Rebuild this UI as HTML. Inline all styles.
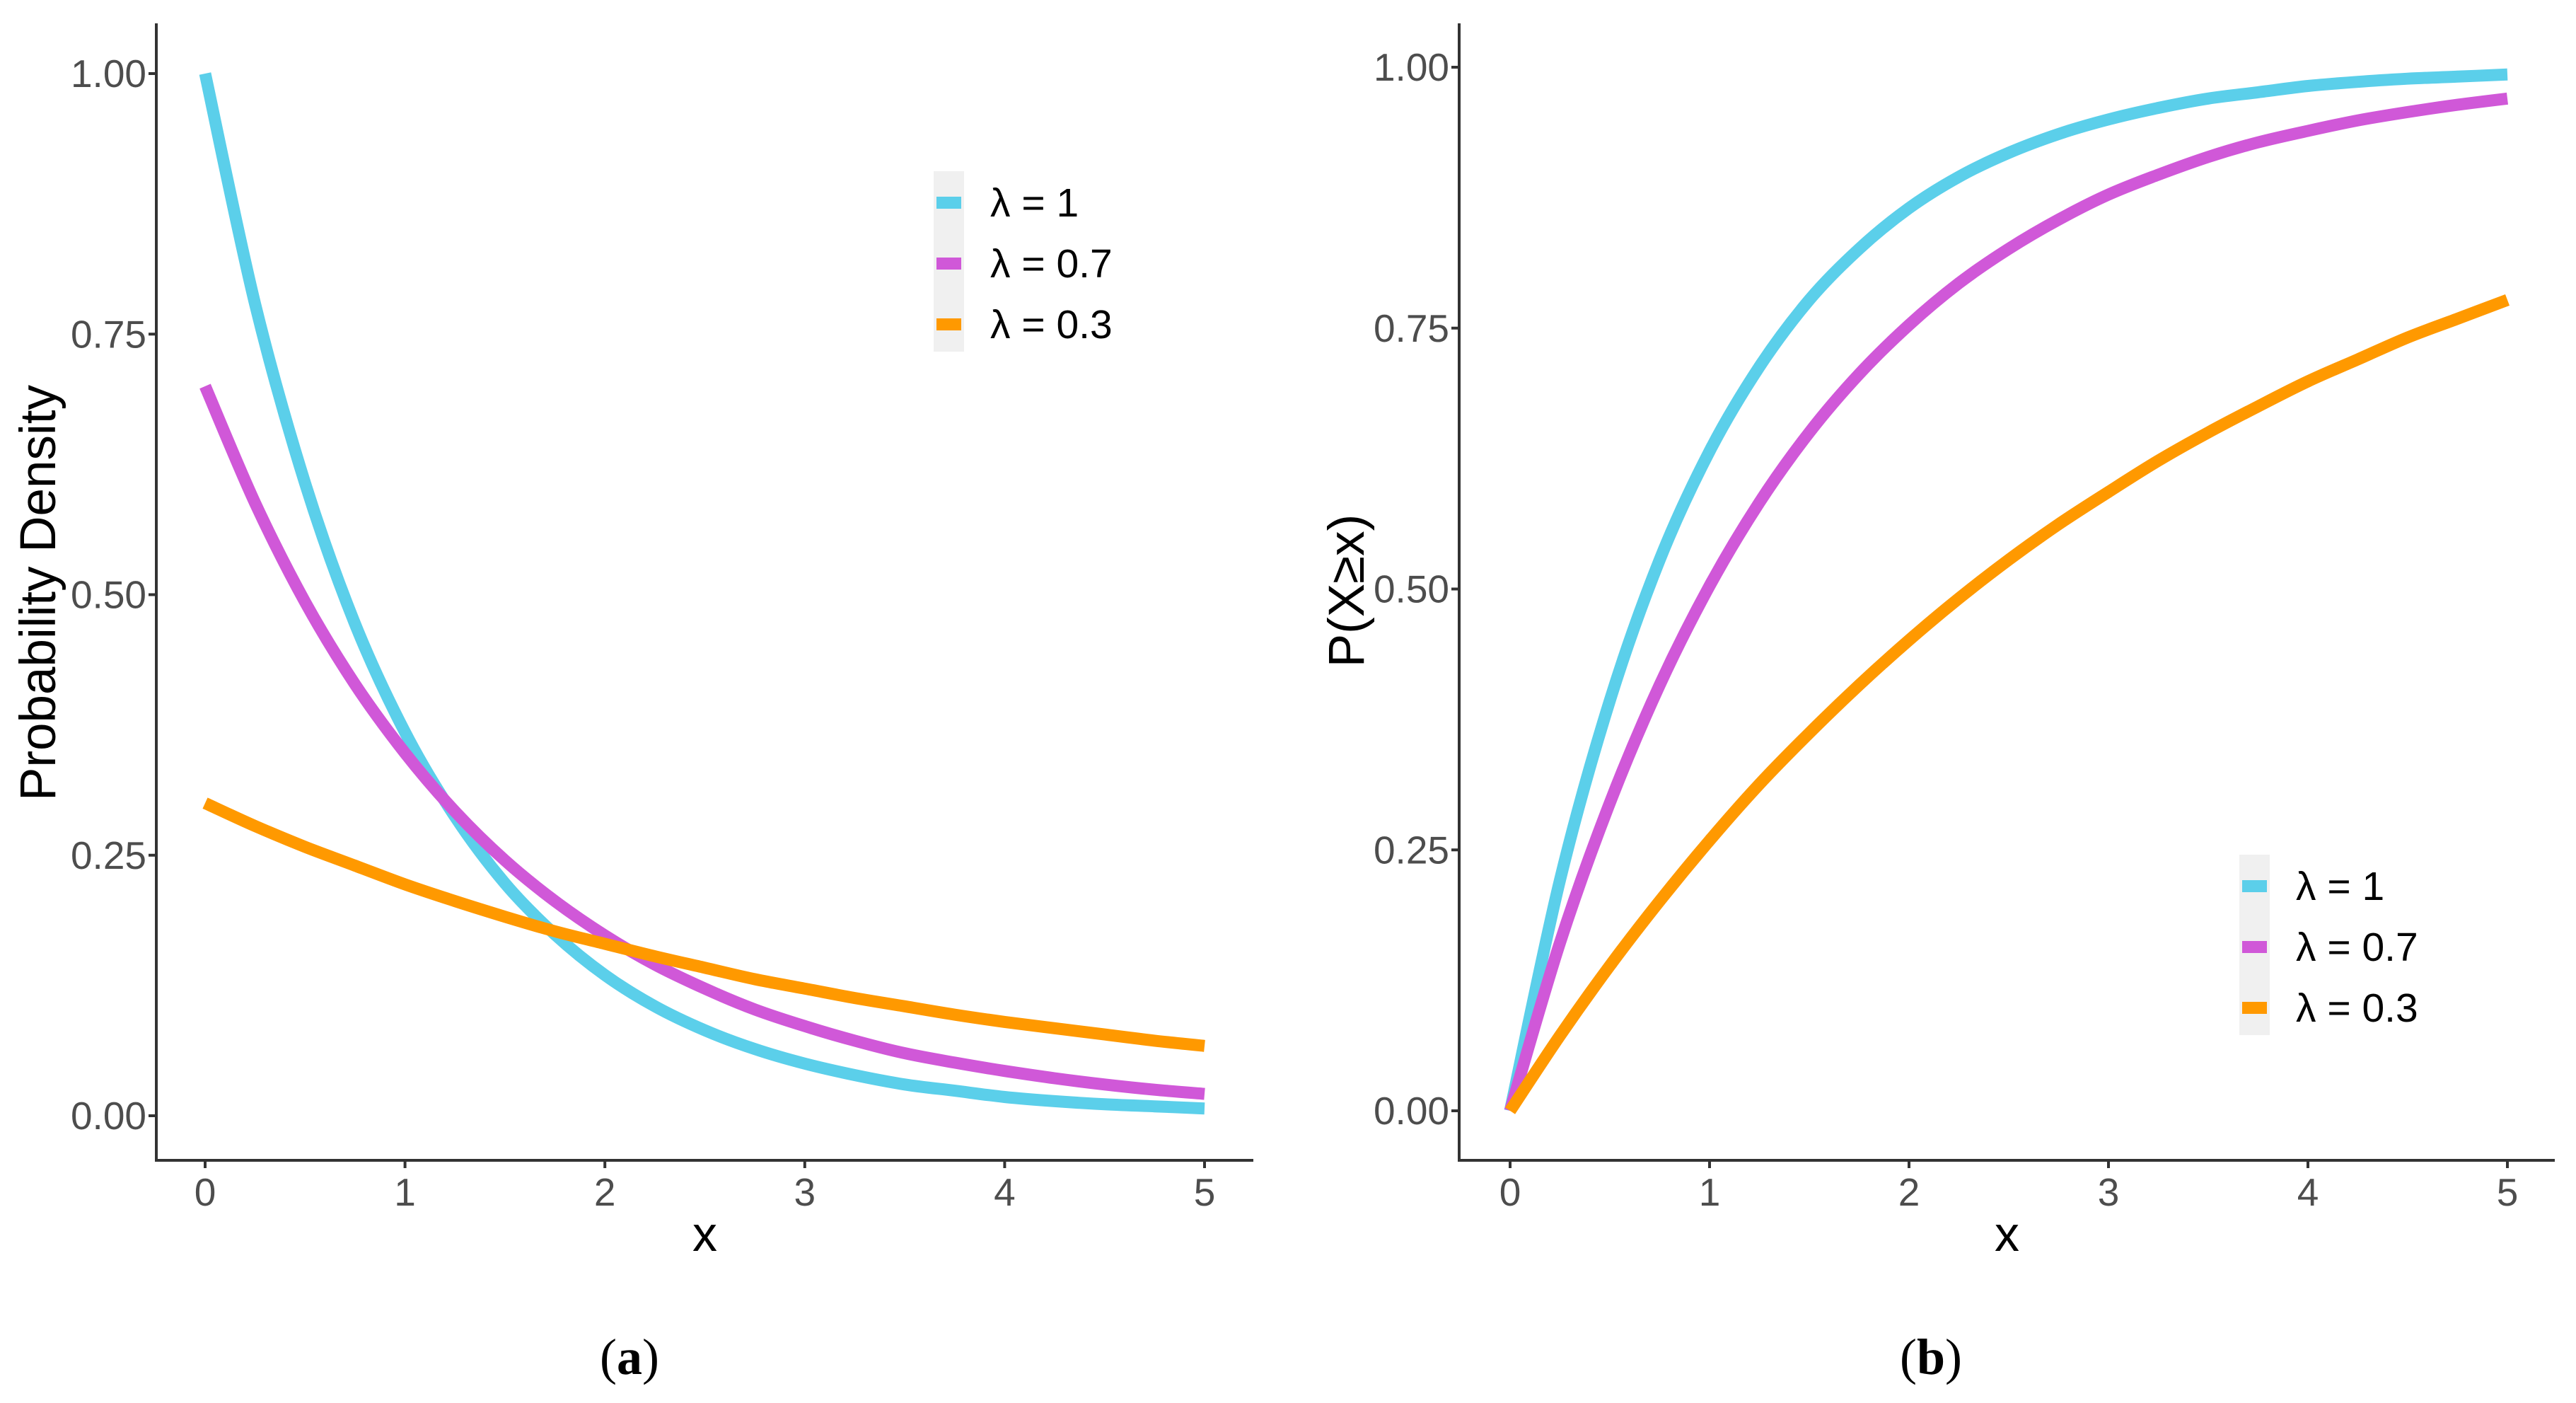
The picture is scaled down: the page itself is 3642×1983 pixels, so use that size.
<!DOCTYPE html>
<html><head><meta charset="utf-8"><style>
html,body{margin:0;padding:0;background:#fff;}
svg{display:block;}
</style></head><body>
<svg id="fig" width="3642" height="1983" viewBox="0 0 3642 1983" xmlns="http://www.w3.org/2000/svg"></svg>
<script>
const xs = [0,0.25,0.5,0.75,1,1.25,1.5,1.75,2,2.25,2.5,2.75,3,3.25,3.5,3.75,4,4.25,4.5,4.75,5];
const pdf1 = [1,.779,.607,.472,.368,.287,.223,.174,.135,.105,.082,.064,.050,.039,.030,.024,.018,.014,.011,.009,.007];
const pdf07 = [.7,.588,.493,.414,.348,.292,.245,.206,.173,.145,.122,.102,.086,.072,.060,.051,.043,.036,.030,.025,.021];
const pdf03 = [.3,.278,.258,.240,.222,.206,.191,.177,.165,.153,.142,.131,.122,.113,.105,.097,.090,.084,.078,.072,.067];
const cdf1 = [0,.221,.393,.528,.632,.713,.777,.826,.865,.895,.918,.936,.950,.961,.970,.976,.982,.986,.989,.991,.993];
const cdf07 = [0,.161,.295,.408,.503,.583,.650,.706,.753,.793,.826,.854,.878,.897,.914,.928,.939,.949,.957,.964,.970];
const cdf03 = [0,.072,.139,.201,.259,.313,.362,.408,.451,.491,.528,.562,.593,.623,.650,.675,.699,.720,.741,.759,.777];
const xTicks = [0,1,2,3,4,5];
const yTicks = [0,0.25,0.5,0.75,1];
const yTickLabels = ["0.00","0.25","0.50","0.75","1.00"];
const legendLabels = ["λ = 1","λ = 0.7","λ = 0.3"];
const colors = ["#5BCFEA","#D058D8","#FF9900"];

const NS = "http://www.w3.org/2000/svg";
const svg = document.getElementById('fig');
function mk(tag, attrs, parent){
  const e = document.createElementNS(NS, tag);
  for (const k in attrs) e.setAttribute(k, attrs[k]);
  (parent||svg).appendChild(e);
  return e;
}
const FONT = '"Liberation Sans", "DejaVu Sans", sans-serif';

function smoothPath(P){
  let d = 'M' + P[0][0].toFixed(1) + ',' + P[0][1].toFixed(1);
  for (let i = 0; i < P.length - 1; i++){
    const p0 = P[Math.max(0, i-1)], p1 = P[i], p2 = P[i+1], p3 = P[Math.min(P.length-1, i+2)];
    const c1x = p1[0] + (p2[0]-p0[0])/6, c1y = p1[1] + (p2[1]-p0[1])/6;
    const c2x = p2[0] - (p3[0]-p1[0])/6, c2y = p2[1] - (p3[1]-p1[1])/6;
    d += ` C${c1x.toFixed(1)},${c1y.toFixed(1)} ${c2x.toFixed(1)},${c2y.toFixed(1)} ${p2[0].toFixed(1)},${p2[1].toFixed(1)}`;
  }
  return d;
}

function panel(cfg){
  const g = mk('g', {});
  
  
  const X = v => cfg.x0 + (cfg.x5 - cfg.x0) * v / 5;
  const Y = v => cfg.y0 + (cfg.y1 - cfg.y0) * v;
  cfg.series.forEach((s, i) => {
    const P = xs.map((x, j) => [X(x), Y(s[j])]);
    const p = mk('path', {d: smoothPath(P), fill: 'none', stroke: colors[i], 'stroke-width': 17, 'stroke-linejoin': 'round'}, g);
    
    
  });
  const ax = mk('path', {d: `M${cfg.axL},${cfg.top} V${cfg.axB} H${cfg.axR}`, fill:'none', stroke:'#333', 'stroke-width': 4}, g);
  
  
  xTicks.forEach(t => {
    mk('line', {x1: X(t), x2: X(t), y1: cfg.axB, y2: cfg.axB + 11, stroke:'#333', 'stroke-width': 4}, g);
    const tx = mk('text', {x: X(t), y: cfg.axB + 64, 'text-anchor':'middle', 'font-family': FONT, 'font-size': 55, fill:'#4d4d4d'}, g);
    tx.textContent = t;
    
    
  });
  yTicks.forEach((t, i) => {
    mk('line', {x1: cfg.axL - 11, x2: cfg.axL, y1: Y(t), y2: Y(t), stroke:'#333', 'stroke-width': 4}, g);
    const tx = mk('text', {x: cfg.axL - 14, y: Y(t) + 19, 'text-anchor':'end', 'font-family': FONT, 'font-size': 55, fill:'#4d4d4d'}, g);
    tx.textContent = yTickLabels[i];
    
    
  });
  const xt = mk('text', {x: (cfg.axL + cfg.axR)/2, y: 1768, 'text-anchor':'middle', 'font-family': FONT, 'font-size': 70, fill:'#000'}, g);
  xt.textContent = 'x';
  
  
  const yt = mk('text', {x: 0, y: 0, 'text-anchor':'middle', 'font-family': FONT, 'font-size': 71, fill:'#000', transform: `translate(${cfg.ytX},${cfg.ytY}) rotate(-90)`}, g);
  yt.textContent = cfg.ytitle;
  
  
  const lg = mk('g', {}, g);
  
  
  mk('rect', {x: cfg.lx, y: cfg.ly, width: 43, height: 255, fill: '#f0f0f0'}, lg);
  legendLabels.forEach((l, i) => {
    const cy = cfg.ly + 44 + i * 86;
    const k = mk('rect', {x: cfg.lx + 4, y: cy - 8, width: 35, height: 17, fill: colors[i]}, lg);
    
    
    const tx = mk('text', {x: cfg.lx + 80, y: cy + 20, 'font-family': FONT, 'font-size': 57, fill:'#000'}, lg);
    tx.textContent = l;
    
    
  });
  const cap = mk('text', {x: cfg.capX, y: 1942, 'text-anchor':'middle', 'font-family': '"Liberation Serif", serif', 'font-size': 72, fill:'#000'}, g);
  cap.innerHTML = '(<tspan font-weight="bold">' + cfg.cap + '</tspan>)';
  
  
}

panel({name:'panel-a-density', x0:290, x5:1703, y0:1577, y1:104, axL:221, axR:1772, axB:1640, top:33,
  series:[pdf1,pdf07,pdf03], seriesNames:['lambda-1','lambda-0.7','lambda-0.3'],
  ytitle:'Probability Density', ytX:78, ytY:838, lx:1320, ly:242, capX:890, cap:'a'});
panel({name:'panel-b-cdf', x0:2135, x5:3545, y0:1570, y1:95, axL:2063, axR:3612, axB:1640, top:33,
  series:[cdf1,cdf07,cdf03], seriesNames:['lambda-1','lambda-0.7','lambda-0.3'],
  ytitle:'P(X≥x)', ytX:1928, ytY:835, lx:3166, ly:1208, capX:2730, cap:'b'});
</script>
</body></html>
